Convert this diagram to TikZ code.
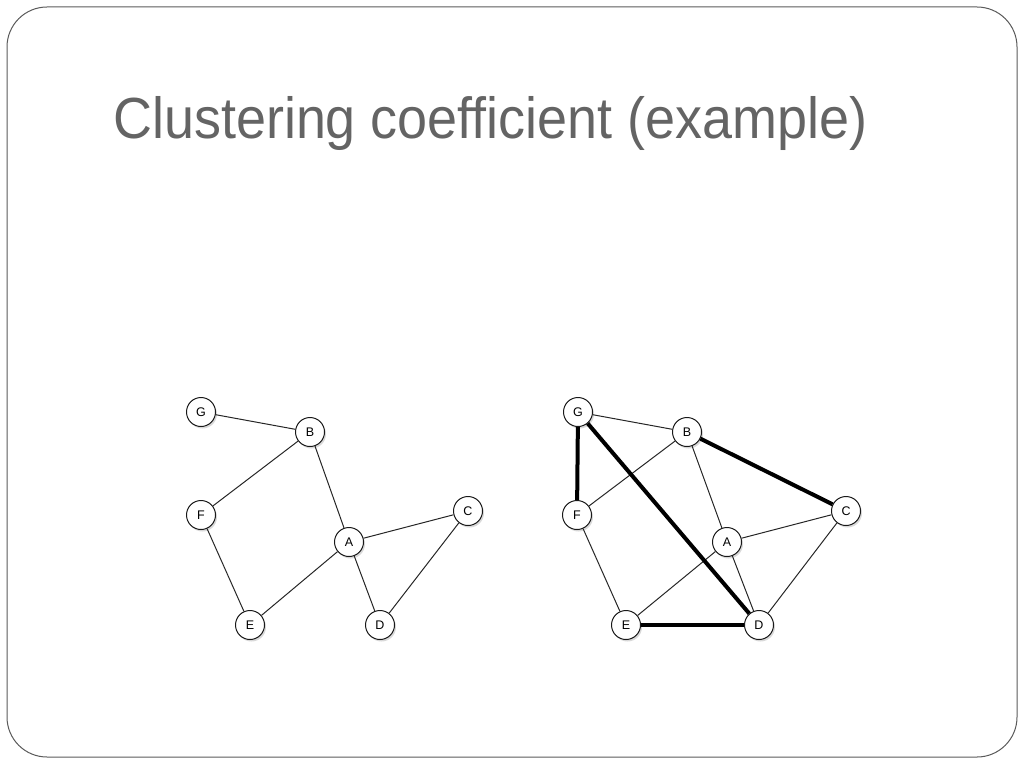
\documentclass[tikz,border=0pt]{standalone}
\usepackage{fontspec}
\setmainfont{Liberation Sans}
\usepackage{tikz}
\usetikzlibrary{shadows}

\definecolor{titlegray}{RGB}{100,100,100}
\definecolor{framegray}{RGB}{90,90,90}

\tikzset{
	vertex/.style={circle, draw=black!90, line width=1pt, fill=white, minimum size=29pt, inner sep=0pt,
		font=\fontsize{12.5}{12.5}\selectfont, drop shadow={shadow xshift=1.5pt, shadow yshift=-2pt, opacity=0.3}},
	thinedge/.style={draw=black!85, line width=1pt},
	thickedge/.style={draw=black, line width=4pt}
}

\begin{document}
\begin{tikzpicture}[x=1pt, y=-1pt]
	\useasboundingbox (0,0) rectangle (1024,768);
	% slide frame and title
	\draw[framegray, line width=1pt, rounded corners=40pt] (7,7) rectangle (1017,757);
	\node[anchor=base west, inner sep=0pt, text=titlegray] (title) at (113,138)
		{\scalebox{0.93}[1]{\fontsize{58}{58}\selectfont Clustering coefficient (example)}};
	% left graph
	\foreach \n/\x/\y in {G/201/412, B/310/432, F/201/515, A/349/542, C/468/511, E/250/625, D/380/625}
		\node[vertex] (l\n) at (\x,\y) {\n};
	\foreach \a/\b in {G/B, B/F, B/A, F/E, A/C, A/E, A/D, C/D}
		\draw[thinedge] (l\a) -- (l\b);
	% right graph
	\foreach \n/\x/\y in {G/578/412, B/687/432, F/577/515, A/727/542, C/846/511, E/626/625, D/759/625}
		\node[vertex] (r\n) at (\x,\y) {\n};
	\foreach \a/\b in {G/B, B/F, B/A, F/E, A/C, A/E, A/D, C/D}
		\draw[thinedge] (r\a) -- (r\b);
	% edges among the neighbours
	\foreach \a/\b in {G/F, G/D, B/C, E/D}
		\draw[thickedge] (r\a) -- (r\b);
\end{tikzpicture}
\end{document}
